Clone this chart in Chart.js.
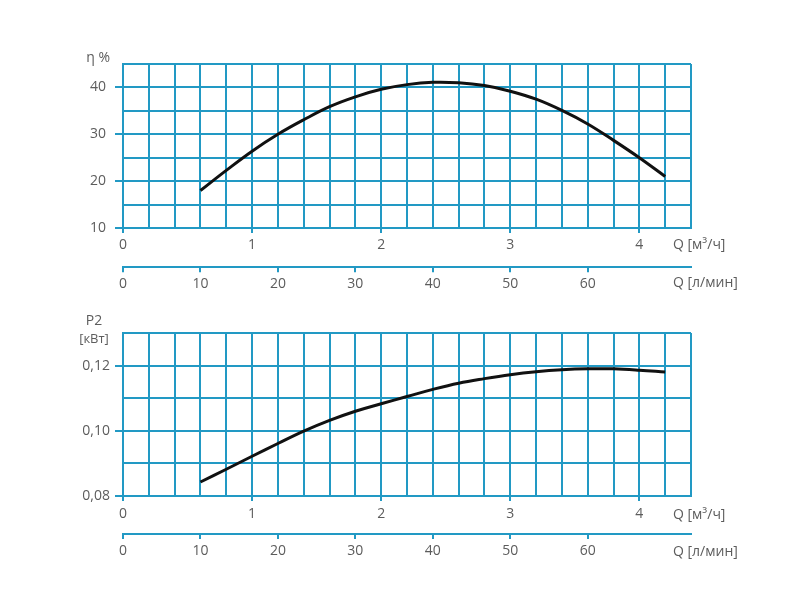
<!DOCTYPE html>
<html><head><meta charset="utf-8">
<script src="https://cdn.jsdelivr.net/npm/chart.js@4.4.0/dist/chart.umd.min.js"></script>
<style>
html,body{margin:0;padding:0;background:#fff;}
#wrap{position:relative;width:800px;height:600px;overflow:hidden;}
canvas{position:absolute;left:0;}
</style></head><body>
<div id="wrap">
<canvas id="c1" width="800" height="300" style="top:0"></canvas>
<canvas id="c2" width="800" height="300" style="top:300px"></canvas>
</div>
<script>
// ---- data ----
const flowM3h    = [0.6, 0.8, 1.0, 1.2, 1.4, 1.6, 1.8, 2.0, 2.2, 2.4, 2.6, 2.8, 3.0, 3.2, 3.4, 3.6, 3.8, 4.0, 4.2];
const efficiency = [18.0, 22.3, 26.4, 30.0, 33.1, 35.9, 38.0, 39.6, 40.6, 41.1, 41.0, 40.4, 39.2, 37.5, 35.1, 32.2, 28.7, 25.0, 21.0];
const power      = [0.0843, 0.0882, 0.0922, 0.0961, 0.0999, 0.1032, 0.1060, 0.1083, 0.1105, 0.1127, 0.1146, 0.1160, 0.1172, 0.1181, 0.1187, 0.1190, 0.1190, 0.1186, 0.1180];
const effTickLabels   = [10, 20, 30, 40];
const powerTickLabels = [0.08, 0.10, 0.12];
const m3hTickLabels   = [0, 1, 2, 3, 4];
const lminTickLabels  = [0, 10, 20, 30, 40, 50, 60];
const lminTickMarks   = [0, 10, 20, 30, 40, 50, 60, 70];
const m3hMax = 4.4;
const lminMax = m3hMax * 1000 / 60;

// ---- style ----
const TEAL = '#2299c4';
const TXT = '#5c5c5c';
Chart.defaults.font.family = "'Open Sans', sans-serif";
Chart.defaults.font.size = 14;
Chart.defaults.color = TXT;

const near = (v, arr) => arr.some(a => Math.abs(a - v) < 1e-6);

const textPlugin = {
  id: 'texts',
  afterDraw(chart, args, opts) {
    const ctx = chart.ctx;
    ctx.save();
    ctx.fillStyle = TXT;
    ctx.textBaseline = 'middle';
    (opts.items || []).forEach(it => {
      ctx.font = (it.size || 14) + "px 'Open Sans', sans-serif";
      ctx.textAlign = it.align || 'left';
      ctx.fillText(it.text, it.x, it.y);
    });
    ctx.restore();
  }
};

function makeChart(id, values, yCfg, lay, texts) {
  const data = flowM3h.map((x, i) => ({ x: x, y: values[i] }));
  return new Chart(document.getElementById(id), {
    type: 'line',
    data: { datasets: [{ data: data, borderColor: '#111', borderWidth: 3, pointRadius: 0, tension: 0.4, fill: false, xAxisID: 'x', yAxisID: 'y' }] },
    options: {
      responsive: false, animation: false,
      layout: { padding: { top: lay.top, right: 109, bottom: 0, left: 0 } },
      plugins: { legend: { display: false }, tooltip: { enabled: false }, texts: { items: texts } },
      scales: {
        y: {
          type: 'linear', min: yCfg.min, max: yCfg.max,
          afterFit(s) { s.width = 123; },
          ticks: { stepSize: yCfg.step, autoSkip: false, padding: yCfg.pad,
            callback: v => near(v, yCfg.labels) ? yCfg.fmt(v) : '' },
          grid: { color: TEAL, lineWidth: 2, tickLength: 8, tickWidth: 2,
            tickColor: c => (c.tick && near(c.tick.value, yCfg.labels)) ? TEAL : 'rgba(0,0,0,0)' },
          border: { color: TEAL, width: 2 }
        },
        x: {
          type: 'linear', position: 'bottom', weight: 0, min: 0, max: m3hMax,
          afterFit(s) { s.height = lay.x1h; },
          ticks: { stepSize: 0.2, autoSkip: false, maxRotation: 0, padding: lay.x1pad,
            callback: v => near(v, m3hTickLabels) ? String(Math.round(v)) : '' },
          grid: { color: TEAL, lineWidth: 2, tickLength: 5, tickWidth: 2,
            tickColor: c => (c.tick && near(c.tick.value, m3hTickLabels)) ? TEAL : 'rgba(0,0,0,0)' },
          border: { color: TEAL, width: 2 }
        },
        x2: {
          type: 'linear', position: 'bottom', weight: 1, min: 0, max: lminMax,
          afterFit(s) { s.height = lay.x2h; },
          ticks: { stepSize: 10, autoSkip: false, maxRotation: 0, padding: lay.x2pad,
            callback: v => near(v, lminTickLabels) ? String(Math.round(v)) : '' },
          grid: { drawOnChartArea: false, color: TEAL, lineWidth: 2, tickLength: 5, tickWidth: 2,
            tickColor: c => (c.tick && near(c.tick.value, lminTickMarks)) ? TEAL : 'rgba(0,0,0,0)' },
          border: { color: TEAL, width: 2 }
        }
      }
    },
    plugins: [textPlugin]
  });
}

makeChart('c1', efficiency,
  { min: 10, max: 45, step: 5, labels: effTickLabels, fmt: v => String(v), pad: 9 },
  { top: 64, x1h: 39.3, x1pad: 4, x2h: 32.7, x2pad: 3 },
  [ { text: 'η %', x: 110, y: 58, align: 'right' },
    { text: 'Q [м³/ч]', x: 673, y: 245, align: 'left' },
    { text: 'Q [л/мин]', x: 673, y: 283.5, align: 'left' } ]);

makeChart('c2', power,
  { min: 0.08, max: 0.13, step: 0.01, labels: powerTickLabels, fmt: v => v.toFixed(2).replace('.', ','), pad: 5 },
  { top: 33, x1h: 38, x1pad: 5, x2h: 66, x2pad: 4 },
  [ { text: 'P2', x: 94, y: 21, align: 'center' },
    { text: '[кВт]', x: 94, y: 39.5, align: 'center', size: 13 },
    { text: 'Q [м³/ч]', x: 673, y: 215.5, align: 'left' },
    { text: 'Q [л/мин]', x: 673, y: 252, align: 'left' } ]);
</script>
</body></html>
